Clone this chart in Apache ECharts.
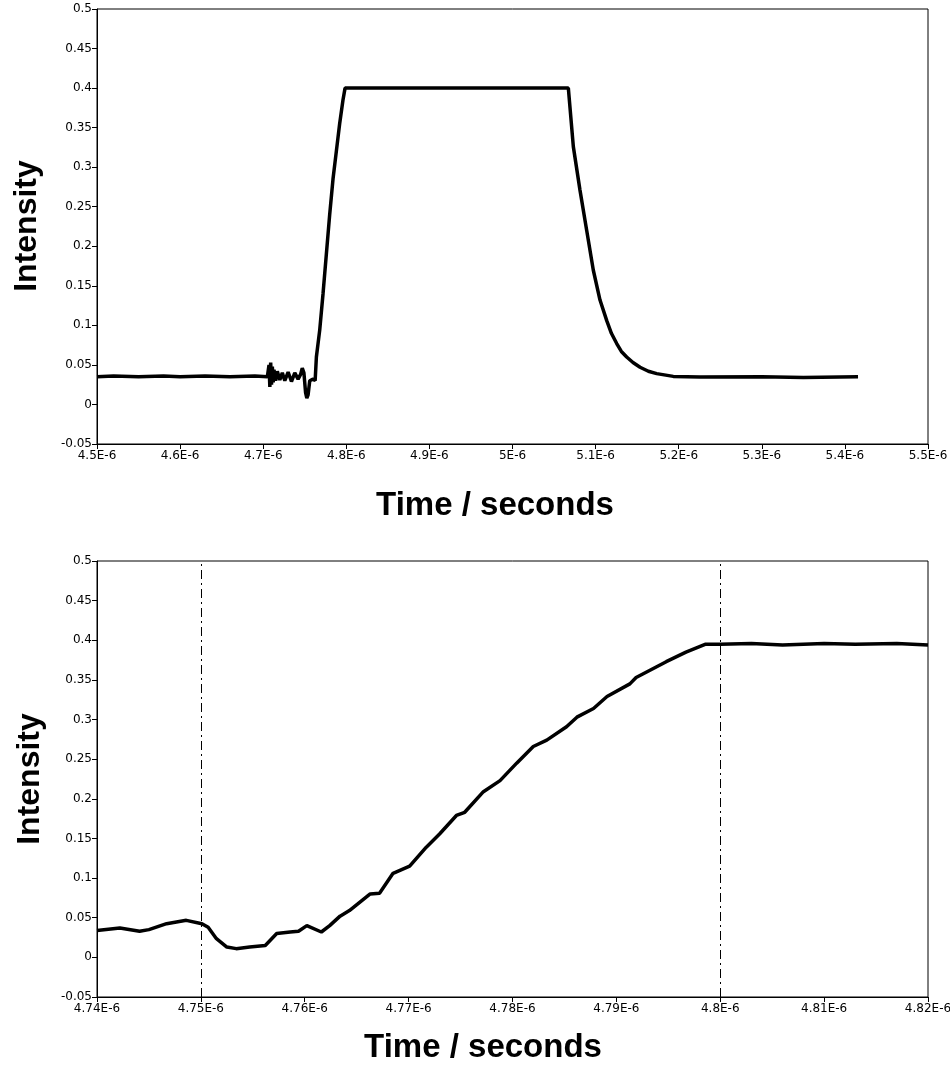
<!DOCTYPE html>
<html>
<head>
<meta charset="utf-8">
<script src="https://cdn.jsdelivr.net/npm/echarts@6/dist/echarts.min.js"></script>
<style>
html, body { margin: 0; padding: 0; background: #fff; }
#main { width: 950px; height: 1072px; }
</style>
</head>
<body>
<div id="main"></div>
<script>
// time in microseconds (axis labels add the E-6)
var topTime = [4.5, 4.52, 4.55, 4.58, 4.6, 4.63, 4.66, 4.69, 4.705,
  4.707, 4.708, 4.709, 4.71, 4.711, 4.712, 4.713, 4.715, 4.717, 4.72, 4.723, 4.726, 4.73, 4.734, 4.738, 4.742, 4.745,
  4.747, 4.749, 4.751, 4.7525, 4.754, 4.756, 4.76, 4.7625,
  4.764, 4.768, 4.772, 4.776, 4.78, 4.784, 4.788, 4.792, 4.796, 4.7985,
  4.85, 4.9, 4.95, 5.0, 5.0672,
  5.0732, 5.0812, 5.0893, 5.0972, 5.1053, 5.1134, 5.119, 5.1254, 5.131, 5.1374, 5.145, 5.1535, 5.1635, 5.1735, 5.1935, 5.2256, 5.3, 5.35, 5.4158];
var topIntensity = [0.035, 0.036, 0.035, 0.036, 0.035, 0.036, 0.035, 0.036, 0.035,
  0.05, 0.022, 0.053, 0.025, 0.048, 0.028, 0.044, 0.03, 0.042, 0.031, 0.04, 0.03, 0.041, 0.029, 0.04, 0.032, 0.038,
  0.046, 0.04, 0.015, 0.008, 0.012, 0.03, 0.032, 0.03,
  0.06, 0.094, 0.14, 0.19, 0.24, 0.285, 0.32, 0.355, 0.385, 0.4,
  0.4, 0.4, 0.4, 0.4, 0.4,
  0.326, 0.271, 0.22, 0.17, 0.132, 0.106, 0.09, 0.077, 0.067, 0.06, 0.053, 0.047, 0.042, 0.039, 0.0355, 0.0346, 0.035, 0.034, 0.035];

var zoomTime = [4.74, 4.7422, 4.7441, 4.745, 4.7467, 4.7486, 4.7501, 4.7507, 4.7515, 4.7525, 4.7534, 4.7547,
  4.7562, 4.7573, 4.7586, 4.7594, 4.7602, 4.7616, 4.7624, 4.7634, 4.7643, 4.7663, 4.7672, 4.7685, 4.7701,
  4.7717, 4.773, 4.7746, 4.7754, 4.7772, 4.7788, 4.7804, 4.782, 4.7833, 4.7852, 4.7862, 4.7878, 4.7891,
  4.7913, 4.7919, 4.7948, 4.7967, 4.7986, 4.8, 4.803, 4.806, 4.81, 4.813, 4.817, 4.82];
var zoomIntensity = [0.034, 0.037, 0.033, 0.035, 0.0425, 0.0467, 0.0425, 0.038, 0.0236, 0.013, 0.011, 0.013,
  0.015, 0.03, 0.032, 0.033, 0.04, 0.032, 0.04, 0.052, 0.059, 0.08, 0.081, 0.106, 0.115,
  0.139, 0.156, 0.179, 0.183, 0.209, 0.223, 0.245, 0.266, 0.274, 0.291, 0.303, 0.314, 0.329,
  0.345, 0.353, 0.373, 0.385, 0.395, 0.395, 0.396, 0.394, 0.396, 0.395, 0.396, 0.394];

var markTimes = [4.75, 4.8];

function pairs(xs, ys) {
  var out = [];
  for (var i = 0; i < xs.length; i++) out.push([xs[i], ys[i]]);
  return out;
}

function timeLabel(v) {
  return parseFloat(v.toFixed(3)) + 'E-6';
}

var tickFont = { color: '#000', fontSize: 12, fontFamily: 'DejaVu Sans' };

function makeX(idx, min, max, interval) {
  return {
    type: 'value', gridIndex: idx, min: min, max: max, interval: interval,
    axisLine: { show: true, onZero: false, lineStyle: { color: '#000', width: 1 } },
    axisTick: { show: true, length: 5, lineStyle: { color: '#000' } },
    axisLabel: Object.assign({ margin: 6, formatter: timeLabel, showMinLabel: true, showMaxLabel: true }, tickFont),
    splitLine: { show: false }
  };
}
function makeY(idx) {
  return {
    type: 'value', gridIndex: idx, min: -0.05, max: 0.5, interval: 0.05,
    axisLine: { show: true, onZero: false, lineStyle: { color: '#000', width: 1 } },
    axisTick: { show: true, length: 5, lineStyle: { color: '#000' } },
    axisLabel: Object.assign({ margin: 5 }, tickFont),
    splitLine: { show: false }
  };
}

var dom = document.getElementById('main');
var myChart = echarts.init(dom);
var option = {
  animation: false,
  backgroundColor: '#fff',
  grid: [
    { left: 97, right: 22, top: 9, height: 435, outerBoundsMode: 'none', show: true, borderColor: '#000', borderWidth: 1, backgroundColor: '#fff' },
    { left: 97, right: 22, top: 561, height: 436, outerBoundsMode: 'none', show: true, borderColor: '#000', borderWidth: 1, backgroundColor: '#fff' }
  ],
  xAxis: [makeX(0, 4.5, 5.5, 0.1), makeX(1, 4.74, 4.82, 0.01)],
  yAxis: [makeY(0), makeY(1)],
  graphic: [
    { type: 'text', x: 27, y: 226, rotation: Math.PI / 2,
      style: { text: 'Intensity', font: 'bold 32px "Liberation Sans", Arial', fill: '#000', align: 'center', verticalAlign: 'middle' } },
    { type: 'text', x: 495, y: 506,
      style: { text: 'Time / seconds', font: 'bold 33px "Liberation Sans", Arial', fill: '#000', align: 'center', verticalAlign: 'middle' } },
    { type: 'text', x: 30, y: 779, rotation: Math.PI / 2,
      style: { text: 'Intensity', font: 'bold 32px "Liberation Sans", Arial', fill: '#000', align: 'center', verticalAlign: 'middle' } },
    { type: 'text', x: 483, y: 1048,
      style: { text: 'Time / seconds', font: 'bold 33px "Liberation Sans", Arial', fill: '#000', align: 'center', verticalAlign: 'middle' } }
  ],
  series: [
    {
      type: 'line', xAxisIndex: 0, yAxisIndex: 0, showSymbol: false, symbol: 'none',
      lineStyle: { color: '#000', width: 3.5 },
      data: pairs(topTime, topIntensity)
    },
    {
      type: 'line', xAxisIndex: 1, yAxisIndex: 1, showSymbol: false, symbol: 'none',
      lineStyle: { color: '#000', width: 3.5 },
      data: pairs(zoomTime, zoomIntensity),
      markLine: {
        silent: true, symbol: 'none', label: { show: false },
        lineStyle: { color: '#000', width: 1, type: [9, 4, 2, 4] },
        data: markTimes.map(function (t) { return { xAxis: t }; })
      }
    }
  ]
};
myChart.setOption(option);
</script>
</body>
</html>
